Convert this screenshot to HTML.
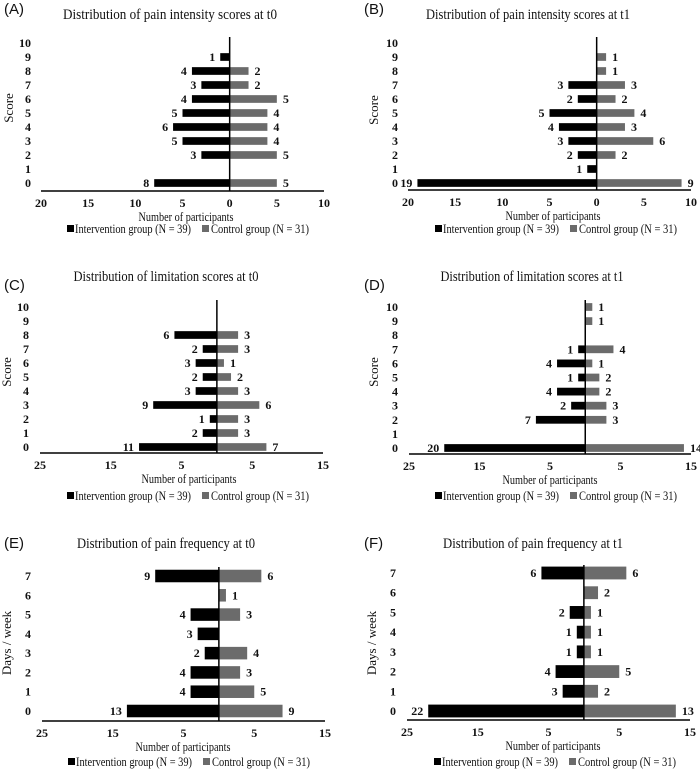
<!DOCTYPE html>
<html><head><meta charset="utf-8"><style>
body{margin:0;background:#fff;width:700px;height:770px;overflow:hidden}
svg{display:block}
svg text{font-family:"Liberation Serif",serif !important;fill:#111}
svg text.lbl{font-family:"Liberation Sans",sans-serif !important;font-size:15px}
.tt{font-size:15px}
.tk{font-size:12px;font-weight:bold}
.vl{font-size:12px;font-weight:bold}
.ax{font-size:13px}
.lg{font-size:13px}
</style></head><body>
<svg id="fig" width="700" height="770" viewBox="0 0 700 770"></svg>
<script>
const catsA=[0,1,2,3,4,5,6,7,8,9,10];
const intA=[8,0,3,5,6,5,4,3,4,1,0];
const ctlA=[5,0,5,4,4,4,5,2,2,0,0];
const intB=[19,1,2,3,4,5,2,3,0,0,0];
const ctlB=[9,0,2,6,3,4,2,3,1,1,0];
const intC=[11,2,1,9,3,2,3,2,6,0,0];
const ctlC=[7,3,3,6,3,2,1,3,3,0,0];
const intD=[20,0,7,2,4,1,4,1,0,0,0];
const ctlD=[14,0,3,3,2,2,1,4,0,1,1];
const catsE=[0,1,2,3,4,5,6,7];
const intE=[13,4,4,2,3,4,0,9];
const ctlE=[9,5,3,4,0,3,1,6];
const intF=[22,3,4,1,1,2,0,6];
const ctlF=[13,2,5,1,1,1,2,6];
const ticksAB=[-20,-15,-10,-5,0,5,10];
const ticksCF=[-25,-15,-5,5,15];

const NS="http://www.w3.org/2000/svg";
const svg=document.getElementById('fig');
function mk(tag,attrs,parent,txt){const e=document.createElementNS(NS,tag);for(const k in attrs)e.setAttribute(k,attrs[k]);if(tag==='text'&&!attrs['font-family'])e.setAttribute('font-family','Liberation Serif, serif');if(txt!==undefined)e.textContent=txt;(parent||svg).appendChild(e);return e;}

function panel(p){
  const g=mk('g',{});
  
  
  const xs=v=>p.x0+(v-p.vmin)/(p.vmax-p.vmin)*(p.x1-p.x0);
  const n=p.cats.length;
  const ys=i=>p.yBot-(i)*(p.yBot-p.yTop)/(n-1);
  const step=(p.yBot-p.yTop)/(n-1);
  const bh=step*p.bf;
  const zx=xs(0);
  let t=mk('text',{x:p.lx,y:p.ly,class:'lbl','font-family':'Liberation Sans, sans-serif'},g,'('+p.id+')');
  
  t=mk('text',{x:p.tx,y:p.ty,class:'tt','text-anchor':'middle',textLength:p.tw,lengthAdjust:'spacingAndGlyphs'},g,p.title);
  
  for(let i=0;i<n;i++){
    const y=ys(i);
    t=mk('text',{x:p.ylx,y:y+4,class:'tk','text-anchor':'end'},g,p.cats[i]);
    
    const a=p.intv[i],c=p.ctl[i];
    if(a>0){
      const r=mk('rect',{x:xs(-a),y:y-bh/2,width:zx-xs(-a),height:bh,fill:'#000'},g);
      
      t=mk('text',{x:xs(-a)-5,y:y+4,class:'vl','text-anchor':'end'},g,a);
      
    }
    if(c>0){
      const r=mk('rect',{x:zx,y:y-bh/2,width:xs(c)-zx,height:bh,fill:'#6b6b6b'},g);
      
      t=mk('text',{x:xs(c)+6,y:y+4,class:'vl'},g,c);
      
    }
  }
  let l=mk('line',{x1:zx,x2:zx,y1:p.zTop,y2:p.axY,stroke:'#000','stroke-width':1.5},g);
  
  l=mk('line',{x1:p.x0,x2:p.x1,y1:p.axY,y2:p.axY,stroke:'#000','stroke-width':1.5},g);
  
  for(const v of p.ticks){
    t=mk('text',{x:xs(v),y:p.axY+16,class:'tk','text-anchor':'middle'},g,Math.abs(v));
    
  }
  t=mk('text',{x:p.atx,y:p.axY+30,class:'ax','text-anchor':'middle',textLength:95,lengthAdjust:'spacingAndGlyphs'},g,'Number of participants');
  
  t=mk('text',{x:p.yax,y:p.yay,class:'ax','text-anchor':'middle',transform:'rotate(-90 '+p.yax+' '+p.yay+')'},g,p.ytitle);
  
  const ly=p.axY+p.lgdy;
  const lg=mk('g',{},g);
  
  let r=mk('rect',{x:p.lgx,y:ly-8,width:7,height:7,fill:'#000'},lg);
  
  t=mk('text',{x:p.lgx+8,y:ly,class:'lg',textLength:116,lengthAdjust:'spacingAndGlyphs'},lg,'Intervention group (N = 39)');
  
  r=mk('rect',{x:p.lgx+135,y:ly-8,width:7,height:7,fill:'#6b6b6b'},lg);
  
  t=mk('text',{x:p.lgx+144,y:ly,class:'lg',textLength:98,lengthAdjust:'spacingAndGlyphs'},lg,'Control group (N = 31)');
  
}

panel({id:'A',title:'Distribution of pain intensity scores at t0',cats:catsA,intv:intA,ctl:ctlA,tw:214,
 vmin:-20,vmax:10,x0:41,x1:324,yTop:43,yBot:183,bf:0.55,zTop:37,axY:191,ticks:ticksAB,
 lx:4,ly:14,tx:170,ty:19,ylx:31,atx:186,yax:13,yay:108,ytitle:'Score',lgx:67,lgdy:42});
panel({id:'B',title:'Distribution of pain intensity scores at t1',cats:catsA,intv:intB,ctl:ctlB,tw:204,
 vmin:-20,vmax:10,x0:408,x1:691,yTop:43,yBot:183,bf:0.55,zTop:37,axY:190,ticks:ticksAB,
 lx:364,ly:14,tx:528,ty:19,ylx:398,atx:553,yax:378,yay:110,ytitle:'Score',lgx:435,lgdy:43});
panel({id:'C',title:'Distribution of limitation scores at t0',cats:catsA,intv:intC,ctl:ctlC,tw:185,
 vmin:-25,vmax:15,x0:40,x1:323,yTop:307,yBot:447,bf:0.55,zTop:300,axY:453,ticks:ticksCF,
 lx:4,ly:290,tx:166,ty:281,ylx:29,atx:189,yax:11,yay:372,ytitle:'Score',lgx:67,lgdy:47});
panel({id:'D',title:'Distribution of limitation scores at t1',cats:catsA,intv:intD,ctl:ctlD,tw:183,
 vmin:-25,vmax:15,x0:409,x1:691,yTop:307,yBot:448,bf:0.55,zTop:300,axY:454,ticks:ticksCF,
 lx:364,ly:290,tx:532,ty:281,ylx:398,atx:550,yax:378,yay:372,ytitle:'Score',lgx:435,lgdy:46});
panel({id:'E',title:'Distribution of pain frequency at t0',cats:catsE,intv:intE,ctl:ctlE,tw:178,
 vmin:-25,vmax:15,x0:42,x1:325,yTop:576,yBot:711,bf:0.65,zTop:567,axY:721,ticks:ticksCF,
 lx:4,ly:548,tx:166,ty:548,ylx:31,atx:183,yax:11,yay:643,ytitle:'Days / week',lgx:68,lgdy:45});
panel({id:'F',title:'Distribution of pain frequency at t1',cats:catsE,intv:intF,ctl:ctlF,tw:180,
 vmin:-25,vmax:15,x0:407,x1:690,yTop:573,yBot:711,bf:0.65,zTop:565,axY:720,ticks:ticksCF,
 lx:364,ly:548,tx:533,ty:548,ylx:396,atx:553,yax:376,yay:643,ytitle:'Days / week',lgx:434,lgdy:46});
</script>
</body></html>
